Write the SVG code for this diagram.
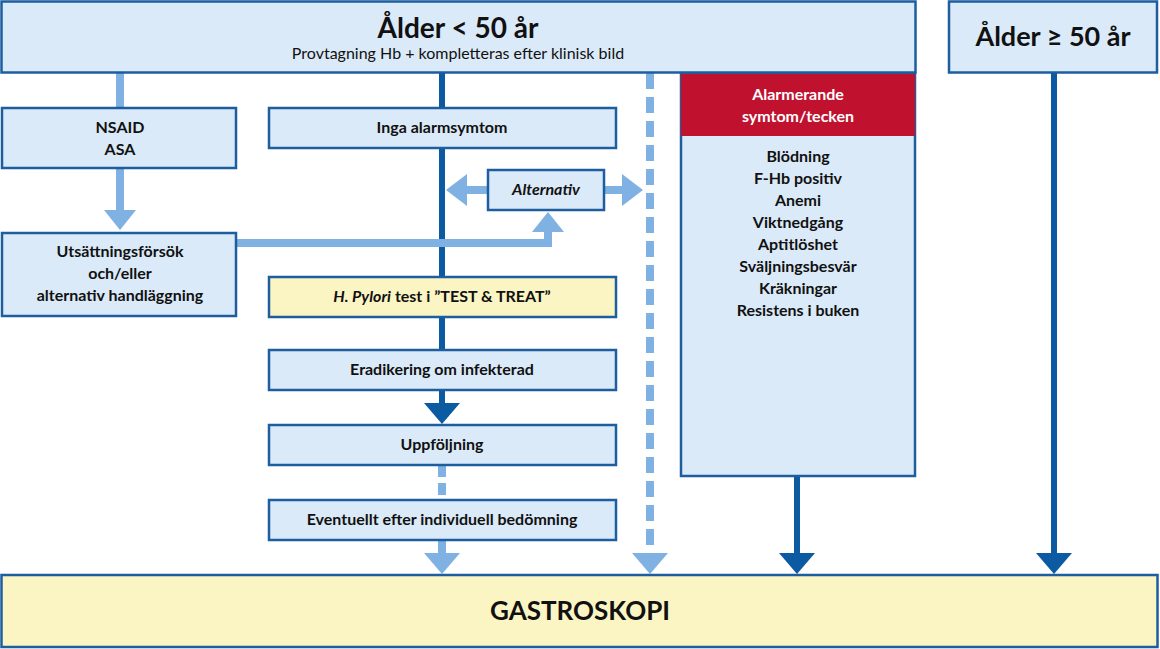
<svg xmlns="http://www.w3.org/2000/svg" width="1160" height="649" viewBox="0 0 1160 649">
<style>
.b{fill:#dbeaf8;stroke:#1d5e9e;stroke-width:2.5}
.y{fill:#fbf5c3;stroke:#1d5e9e;stroke-width:2.5}
text{font-family:Lato,"Liberation Sans",sans-serif;font-weight:bold;fill:#111;text-anchor:middle}
.t{font-size:16px}
.l{stroke:#7fb1e2;stroke-width:8;fill:none}
.d{stroke:#0b5aa2;stroke-width:6;fill:none}
.lf{fill:#7fb1e2}
.df{fill:#0b5aa2}
</style>
<rect width="1160" height="649" fill="#fff"/>
<g id="connectors">
<line class="l" x1="120" y1="73" x2="120" y2="108"/>
<line class="l" x1="120" y1="168" x2="120" y2="212"/>
<polygon class="lf" points="104,210 136,210 120,230"/>
<line class="d" x1="442" y1="73" x2="442" y2="277"/>
<line class="d" x1="442" y1="317" x2="442" y2="350"/>
<line class="d" x1="442" y1="390" x2="442" y2="405"/>
<polygon class="df" points="424,403 460,403 442,424"/>
<line class="l" x1="442" y1="465" x2="442" y2="500" stroke-dasharray="12,6"/>
<line class="l" x1="442" y1="540" x2="442" y2="556"/>
<polygon class="lf" points="424,553 460,553 442,574"/>
<line class="l" x1="650" y1="73" x2="650" y2="553" stroke-dasharray="16,8"/>
<polygon class="lf" points="632,553 668,553 650,574"/>
<polyline class="l" points="236,243 548,243 548,218"/>
<polygon class="lf" points="532,232 564,232 548,212"/>
<line class="l" x1="488" y1="190" x2="465" y2="190"/>
<polygon class="lf" points="467,174 467,206 446,190"/>
<line class="l" x1="604" y1="190" x2="624" y2="190"/>
<polygon class="lf" points="622,174 622,206 643,190"/>
<line class="d" x1="797" y1="476" x2="797" y2="556"/>
<polygon class="df" points="779,553 815,553 797,574"/>
<line class="d" x1="1054" y1="73" x2="1054" y2="556"/>
<polygon class="df" points="1036,553 1072,553 1054,574"/>
</g>
<g id="top"><rect class="b" x="1.5" y="1.5" width="914" height="71"/>
<text x="458" y="38" style="font-size:28px">Ålder &lt; 50 år</text>
<text x="458" y="59" style="font-size:16px;font-weight:normal">Provtagning Hb + kompletteras efter klinisk bild</text></g>
<g id="top2"><rect class="b" x="949" y="1.5" width="208" height="71"/>
<text x="1053" y="46" style="font-size:27px">Ålder ≥ 50 år</text></g>
<g id="nsaid"><rect class="b" x="2" y="108" width="234" height="60"/>
<text class="t" x="120" y="133">NSAID</text><text class="t" x="120" y="155">ASA</text></g>
<g id="inga"><rect class="b" x="269" y="108" width="347" height="40"/>
<text class="t" x="442" y="133">Inga alarmsymtom</text></g>
<g id="alt"><rect class="b" x="488" y="170" width="116" height="40"/>
<text class="t" x="546" y="195" font-style="italic">Alternativ</text></g>
<g id="uts"><rect class="b" x="2" y="233" width="234" height="83"/>
<text class="t" x="120" y="257">Utsättningsförsök</text><text class="t" x="120" y="279">och/eller</text><text class="t" x="120" y="301">alternativ handläggning</text></g>
<g id="hp"><rect class="y" x="269" y="277" width="347" height="40"/>
<text class="t" x="442" y="302"><tspan font-style="italic">H. Pylori</tspan> test i ”TEST &amp; TREAT”</text></g>
<g id="erad"><rect class="b" x="269" y="350" width="347" height="40"/>
<text class="t" x="442" y="375">Eradikering om infekterad</text></g>
<g id="upp"><rect class="b" x="269" y="425" width="347" height="40"/>
<text class="t" x="442" y="450">Uppföljning</text></g>
<g id="event"><rect class="b" x="269" y="500" width="347" height="40"/>
<text class="t" x="442" y="525">Eventuellt efter individuell bedömning</text></g>
<g id="alarm"><rect class="b" x="681" y="74" width="234" height="402"/>
<rect x="681" y="74" width="234" height="62" fill="#c0122f"/>
<text class="t" x="798" y="100" style="fill:#fff">Alarmerande</text><text class="t" x="798" y="122" style="fill:#fff">symtom/tecken</text>
<text class="t" x="798" y="162">Blödning</text><text class="t" x="798" y="184">F-Hb positiv</text><text class="t" x="798" y="206">Anemi</text><text class="t" x="798" y="228">Viktnedgång</text><text class="t" x="798" y="250">Aptitlöshet</text><text class="t" x="798" y="272">Sväljningsbesvär</text><text class="t" x="798" y="294">Kräkningar</text><text class="t" x="798" y="316">Resistens i buken</text></g>
<g id="gastro"><rect class="y" x="1.5" y="575" width="1156" height="72"/>
<text x="580" y="620" style="font-size:26px">GASTROSKOPI</text></g>
</svg>
